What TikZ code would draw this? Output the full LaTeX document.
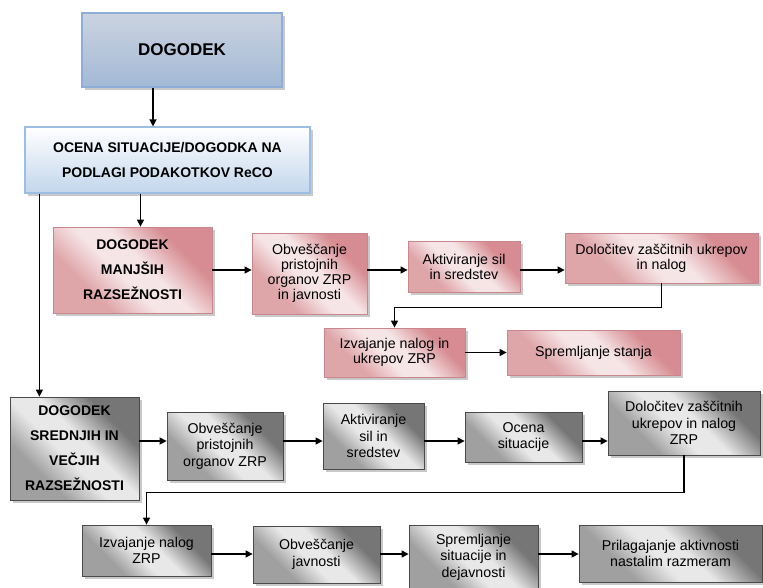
\documentclass[tikz,border=0pt]{standalone}
\usepackage{fontspec}
\setmainfont{Liberation Sans}
\usetikzlibrary{arrows.meta,shadows}

\definecolor{bluetop}{HTML}{CBD3E0}
\definecolor{bluebot}{HTML}{A3B9D6}
\definecolor{blueline}{HTML}{8EAEDA}
\definecolor{palebot}{HTML}{C2D6EC}
\definecolor{paleline}{HTML}{9DBEE3}
\definecolor{pinkA}{HTML}{D68C92}
\definecolor{pinkB}{HTML}{F6E5E6}
\definecolor{pinkC}{HTML}{DFA6AA}
\definecolor{pinkline}{HTML}{C9868C}
\definecolor{greyA}{HTML}{767676}
\definecolor{greyB}{HTML}{E8E8E8}
\definecolor{greyC}{HTML}{A0A0A0}
\definecolor{greyline}{HTML}{4A4A4A}

\pgfdeclareverticalshading{pinksweep}{100bp}{color(0bp)=(pinkC); color(32bp)=(pinkC);
  color(45bp)=(pinkB); color(55bp)=(pinkB); color(70bp)=(pinkA); color(100bp)=(pinkA)}
\pgfdeclareverticalshading{greysweep}{100bp}{color(0bp)=(greyC); color(32bp)=(greyC);
  color(45bp)=(greyB); color(55bp)=(greyB); color(70bp)=(greyA); color(100bp)=(greyA)}

\tikzset{
  box/.style={rectangle, inner sep=0pt, align=center,
    drop shadow={shadow xshift=3pt, shadow yshift=-3pt, fill=black!35, opacity=.6}},
  bluebox/.style={box, draw=blueline, line width=1.2pt, top color=bluetop, bottom color=bluebot},
  palebox/.style={box, draw=paleline, line width=1.2pt, top color=white, bottom color=palebot},
  pinkbox/.style={box, draw=pinkline, line width=.8pt, shading=pinksweep, shading angle=-45},
  greybox/.style={box, draw=greyline, line width=.8pt, shading=greysweep, shading angle=-45},
  bfont/.style={font=\bfseries\fontsize{14}{25}\selectfont},
  tfont/.style={font=\fontsize{14.2}{15}\selectfont},
  gfont/.style={font=\fontsize{14.2}{16.5}\selectfont},
  arr/.style={line width=1.3pt, -{Triangle[length=7pt,width=7pt]}}
}

\begin{document}
\begin{tikzpicture}[x=1pt,y=-1pt]

  \path[use as bounding box, fill=white] (0,0) rectangle (763,587);

  \coordinate (r1) at (0,270); \coordinate (r2) at (0,441);
  \coordinate (r3) at (0,554);

  \node[bluebox, minimum width=200pt, minimum height=74pt,
    font=\bfseries\fontsize{17}{20}\selectfont] (dog) at (182,50) {DOGODEK};
  \node[palebox, bfont, minimum width=285pt, minimum height=66pt] (ocena)
    at (167.5,160) {OCENA SITUACIJE/DOGODKA NA\\PODLAGI PODAKOTKOV ReCO};

  \node[pinkbox, bfont, minimum width=159pt, minimum height=86pt] (manj)
    at (132.5,270) {DOGODEK\\MANJŠIH\\RAZSEŽNOSTI};
  \node[pinkbox, tfont, minimum width=115pt, minimum height=81pt] (obv1)
    at (309.5,273.5) {Obveščanje\\pristojnih\\organov ZRP\\in javnosti};
  \node[pinkbox, tfont, minimum width=112pt, minimum height=51pt] (akt1)
    at (464,266.5) {Aktiviranje sil\\in sredstev};
  \node[pinkbox, tfont, minimum width=193pt, minimum height=50pt] (dol1)
    at (661.5,258) {Določitev zaščitnih ukrepov\\in nalog};
  \node[pinkbox, tfont, minimum width=141pt, minimum height=49pt] (izv1)
    at (394.5,352.5) {Izvajanje nalog in\\ukrepov ZRP};
  \node[pinkbox, tfont, minimum width=173pt, minimum height=45pt] (spr1)
    at (593.5,352.5) {Spremljanje stanja};

  \node[greybox, bfont, minimum width=129pt, minimum height=103pt] (sred)
    at (74.5,448.5) {DOGODEK\\SREDNJIH IN\\VEČJIH\\RAZSEŽNOSTI};
  \node[greybox, gfont, minimum width=116pt, minimum height=68pt] (obv2)
    at (225,446) {Obveščanje\\pristojnih\\organov ZRP};
  \node[greybox, gfont, minimum width=101pt, minimum height=66pt] (akt2)
    at (373.5,436) {Aktiviranje\\sil in\\sredstev};
  \node[greybox, gfont, minimum width=117pt, minimum height=50pt] (oce2)
    at (523.5,437) {Ocena\\situacije};
  \node[greybox, gfont, minimum width=152pt, minimum height=64pt] (dol2)
    at (684,423) {Določitev zaščitnih\\ukrepov in nalog\\ZRP};
  \node[greybox, gfont, minimum width=129pt, minimum height=51pt] (izv2)
    at (146.5,550.5) {Izvajanje nalog\\ZRP};
  \node[greybox, gfont, minimum width=127pt, minimum height=57pt] (obv3)
    at (316.5,554.5) {Obveščanje\\javnosti};
  \node[greybox, gfont, minimum width=129pt, minimum height=64pt] (spr2)
    at (473.5,557) {Spremljanje\\situacije in\\dejavnosti};
  \node[greybox, gfont, minimum width=183pt, minimum height=57pt] (pri2)
    at (670.5,553.5) {Prilagajanje aktivnosti\\nastalim razmeram};

  \draw[arr] ([xshift=-29pt]dog.south) -- ([xshift=-29pt]dog.south |- ocena.north);
  \draw[arr] ([xshift=-27pt]ocena.south) -- ([xshift=-27pt]ocena.south |- manj.north);
  \draw[arr] ([xshift=15pt]ocena.south west) -- ([xshift=15pt]ocena.south west |- sred.north);

  \draw[arr] (manj.east |- r1) -- (obv1.west |- r1);
  \draw[arr] (obv1.east |- r1) -- (akt1.west |- r1);
  \draw[arr] (akt1.east |- r1) -- (dol1.west |- r1);
  \draw[arr] (dol1.south) -- ++(0,24) -| (izv1.north);
  \draw[arr] (izv1.east) -- (spr1.west);

  \draw[arr] (sred.east |- r2) -- (obv2.west |- r2);
  \draw[arr] (obv2.east |- r2) -- (akt2.west |- r2);
  \draw[arr] (akt2.east |- r2) -- (oce2.west |- r2);
  \draw[arr] (oce2.east |- r2) -- (dol2.west |- r2);
  \draw[arr] (dol2.south) -- ++(0,37) -| (izv2.north);
  \draw[arr] (izv2.east |- r3) -- (obv3.west |- r3);
  \draw[arr] (obv3.east |- r3) -- (spr2.west |- r3);
  \draw[arr] (spr2.east |- r3) -- (pri2.west |- r3);

\end{tikzpicture}
\end{document}
